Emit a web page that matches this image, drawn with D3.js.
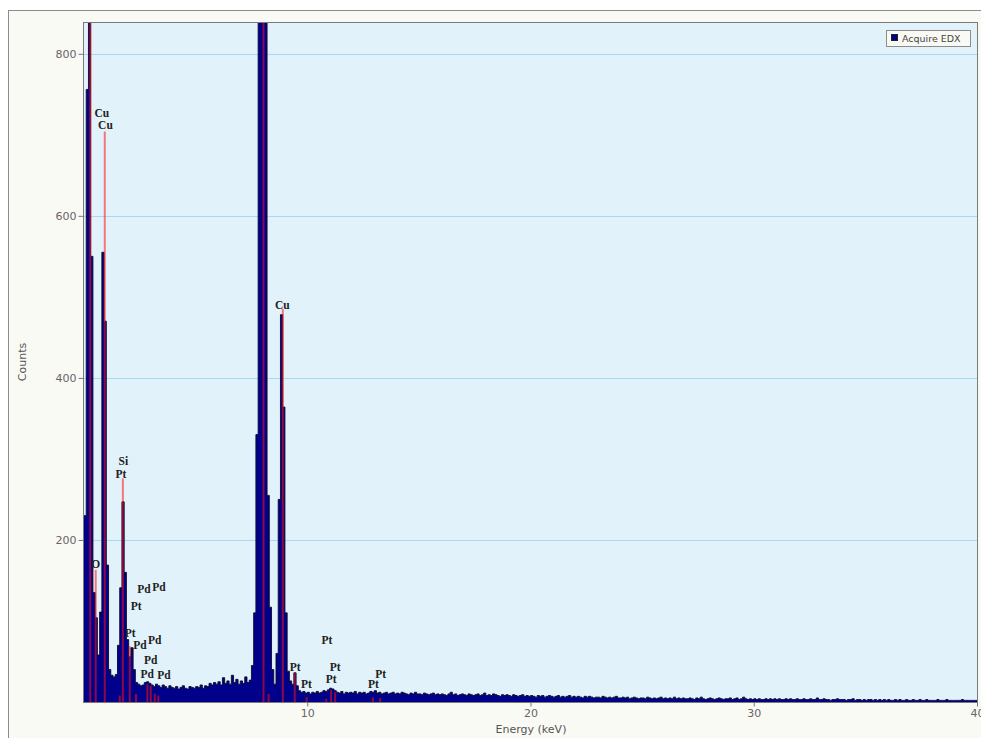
<!DOCTYPE html>
<html>
<head>
<meta charset="utf-8">
<script src="https://cdn.jsdelivr.net/npm/d3@7"></script>
<style>
  body { margin: 0; background: #fff; }
  svg { display: block; }
</style>
</head>
<body>
<svg id="chart" width="981" height="738"></svg>
<script>
// EDX spectrum, counts per 0.1 keV channel from 0 to 40 keV
const binWidth = 0.1;
const counts = [
  230, 756, 1500, 550, 135, 104, 58, 111, 555, 470,
  169, 40, 33, 31, 34, 70, 141, 247, 160, 77,
  56, 67, 40, 24, 22, 20, 21, 24, 25, 23,
  21, 19, 22, 20, 18, 21, 19, 17, 20, 18,
  17, 19, 16, 18, 20, 17, 16, 19, 18, 17,
  19, 18, 21, 17, 20, 19, 23, 21, 24, 22,
  25, 21, 30, 23, 26, 22, 33, 24, 28, 22,
  26, 23, 31, 24, 27, 45, 110, 330, 1200, 2500,
  2300, 900, 255, 117, 40, 22, 60, 250, 478, 364,
  110, 38, 26, 22, 36, 20, 14, 12, 13, 11,
  12, 10, 12, 11, 13, 11, 12, 14, 13, 15,
  17, 16, 14, 12, 11, 13, 10, 12, 11, 12,
  11, 13, 10, 12, 11, 12, 10, 11, 13, 12,
  14, 11, 12, 10, 11, 12, 10, 11, 12, 10,
  11, 10, 12, 11, 10, 9, 11, 10, 12, 10,
  10, 9, 11, 10, 9, 10, 11, 9, 10, 9,
  10, 9, 8, 10, 12, 9, 10, 8, 9, 10,
  9, 8, 10, 9, 8, 9, 10, 8, 9, 11,
  8, 9, 8, 10, 9, 8, 7, 9, 8, 9,
  8, 7, 9, 8, 7, 8, 9, 7, 8, 7,
  8, 7, 6, 8, 7, 8, 6, 7, 8, 7,
  6, 7, 8, 6, 7, 6, 7, 8, 6, 7,
  6, 7, 6, 5, 7, 6, 7, 6, 5, 6,
  6, 5, 7, 6, 5, 6, 5, 6, 7, 5,
  5, 6, 5, 6, 4, 5, 6, 5, 4, 5,
  5, 4, 6, 5, 4, 5, 4, 5, 6, 4,
  5, 4, 5, 4, 6, 4, 5, 4, 5, 4,
  4, 5, 4, 3, 5, 4, 6, 4, 3, 4,
  5, 4, 3, 4, 5, 4, 3, 4, 4, 5,
  3, 4, 5, 3, 4, 6, 4, 3, 4, 3,
  4, 3, 4, 3, 3, 4, 3, 4, 3, 4,
  3, 4, 3, 3, 4, 3, 4, 3, 3, 4,
  3, 3, 4, 3, 3, 4, 3, 3, 5, 3,
  3, 4, 3, 3, 2, 3, 3, 4, 3, 3,
  3, 2, 3, 3, 4, 2, 3, 3, 2, 3,
  2, 3, 3, 2, 3, 2, 3, 2, 3, 2,
  3, 2, 2, 3, 2, 3, 2, 2, 3, 2,
  2, 3, 2, 2, 3, 2, 2, 3, 2, 2,
  2, 2, 3, 2, 2, 2, 3, 2, 2, 2,
  2, 2, 2, 3, 2, 2, 2, 2, 2, 2
];

// element marker lines: energy (keV) and height (counts)
const markerEnergy = [0.28, 0.525, 0.93, 1.6, 1.74, 2.05, 2.33, 2.84, 2.99, 3.17, 3.33,
                      8.04, 8.27, 8.905, 9.44, 9.97, 10.85, 11.07, 11.25, 12.94, 13.27];
const markerHeight = [1500, 163, 704, 8, 276, 69, 10, 22, 20, 10, 8,
                      2000, 10, 485, 36, 6, 4, 15, 12, 6, 5];

// peak labels
const labelText   = ["Cu", "Cu", "O", "Si", "Pt", "Pd", "Pd", "Pt", "Pt", "Pd", "Pd", "Pd", "Pd", "Pd",
                     "Cu", "Pt", "Pt", "Pt", "Pt", "Pt", "Pt", "Pt"];
const labelEnergy = [0.80, 0.96, 0.52, 1.76, 1.65, 2.69, 3.36, 2.34, 2.07, 2.51, 3.17, 2.99, 2.83, 3.58,
                     8.88, 9.46, 9.96, 10.88, 11.25, 11.07, 13.29, 12.96];
const labelCounts = [722, 707, 165, 292, 277, 135, 137, 114, 80, 65, 72, 47, 30, 29,
                     485, 38, 17, 72, 38, 23, 30, 17];

const yTicks = [200, 400, 600, 800];
const xTicks = [10, 20, 30, 40];
const seriesName = "Acquire EDX";

const svg = d3.select("#chart");
const plotLeft = 84, plotRight = 977, plotTop = 23, plotBottom = 702;

const x = d3.scaleLinear().domain([0, 40]).range([plotLeft, plotRight]);
const y = d3.scaleLinear().domain([0, 838]).range([plotBottom, plotTop]);

// outer panel
svg.append("rect")
  .attr("x", 8.5).attr("y", 10.5)
  .attr("width", 1000).attr("height", 760)
  .attr("fill", "#fafaf4")
  .attr("stroke", "#8c8c8c");

// plot background
svg.append("rect")
  .attr("x", plotLeft).attr("y", plotTop)
  .attr("width", plotRight - plotLeft).attr("height", plotBottom - plotTop)
  .attr("fill", "#e2f2fb");

svg.append("g")
  .selectAll("line")
  .data(yTicks)
  .join("line")
  .attr("x1", plotLeft).attr("x2", plotRight)
  .attr("y1", d => Math.round(y(d)) + 0.5)
  .attr("y2", d => Math.round(y(d)) + 0.5)
  .attr("stroke", "#a6d9f1");

svg.append("clipPath").attr("id", "plotClip")
  .append("rect")
  .attr("x", plotLeft).attr("y", plotTop)
  .attr("width", plotRight - plotLeft).attr("height", plotBottom - plotTop);

const plot = svg.append("g").attr("clip-path", "url(#plotClip)");

const pts = counts.map((c, i) => ({ e: i * binWidth, c: c }));
pts.push({ e: counts.length * binWidth, c: counts[counts.length - 1] });

const area = d3.area()
  .x(d => x(d.e))
  .y0(y(0))
  .y1(d => y(d.c))
  .curve(d3.curveStepAfter);

const line = d3.line()
  .x(d => x(d.e))
  .y(d => y(d.c))
  .curve(d3.curveStepAfter);

plot.append("path")
  .datum(pts)
  .attr("d", area)
  .attr("fill", "#00008a");

plot.append("path")
  .datum(pts)
  .attr("d", line)
  .attr("fill", "none")
  .attr("stroke", "#0b0b2a")
  .attr("stroke-width", 0.9);

// marker lines
plot.append("g")
  .selectAll("line")
  .data(markerEnergy)
  .join("line")
  .attr("x1", d => x(d)).attr("x2", d => x(d))
  .attr("y1", y(0))
  .attr("y2", (d, i) => y(markerHeight[i]))
  .attr("stroke", "#ff1010")
  .attr("stroke-opacity", 0.55)
  .attr("stroke-width", 2);

// frame
svg.append("rect")
  .attr("x", plotLeft - 0.5).attr("y", plotTop - 0.5)
  .attr("width", plotRight - plotLeft + 1).attr("height", plotBottom - plotTop + 1)
  .attr("fill", "none")
  .attr("stroke", "#7a7a7a");

// axes
const yAxis = svg.append("g")
  .attr("transform", `translate(${plotLeft - 0.5},0)`)
  .call(d3.axisLeft(y).tickValues(yTicks).tickSize(5).tickPadding(2));

const xAxis = svg.append("g")
  .attr("transform", `translate(0,${plotBottom + 0.5})`)
  .call(d3.axisBottom(x).tickValues(xTicks).tickSize(4).tickPadding(3));

[yAxis, xAxis].forEach(g => {
  g.select(".domain").remove();
  g.selectAll(".tick line").attr("stroke", "#777");
  g.selectAll(".tick text")
    .attr("fill", "#666")
    .style("font-family", "'DejaVu Sans', sans-serif")
    .style("font-size", "11px");
});

svg.append("text")
  .attr("transform", "translate(26,362) rotate(-90)")
  .attr("text-anchor", "middle")
  .attr("fill", "#555")
  .style("font-family", "'DejaVu Sans', sans-serif")
  .style("font-size", "11px")
  .text("Counts");

svg.append("text")
  .attr("x", 531).attr("y", 733)
  .attr("text-anchor", "middle")
  .attr("fill", "#555")
  .style("font-family", "'DejaVu Sans', sans-serif")
  .style("font-size", "11px")
  .text("Energy (keV)");

// peak labels
svg.append("g")
  .selectAll("text")
  .data(labelText)
  .join("text")
  .attr("x", (d, i) => x(labelEnergy[i]))
  .attr("y", (d, i) => y(labelCounts[i]))
  .attr("text-anchor", "middle")
  .attr("fill", "#222")
  .style("font-family", "'Liberation Serif', serif")
  .style("font-weight", "bold")
  .style("font-size", "11.5px")
  .text(d => d);

// legend
const legend = svg.append("g").attr("transform", "translate(886,30)");
legend.append("rect")
  .attr("x", 0.5).attr("y", 0.5)
  .attr("width", 84).attr("height", 16)
  .attr("fill", "#fafaf4")
  .attr("stroke", "#8c8c8c");
legend.append("rect")
  .attr("x", 5.5).attr("y", 4.5)
  .attr("width", 6).attr("height", 6)
  .attr("fill", "#00008a")
  .attr("stroke", "#222");
legend.append("text")
  .attr("x", 16).attr("y", 12)
  .attr("fill", "#444")
  .style("font-family", "'DejaVu Sans', sans-serif")
  .style("font-size", "9.5px")
  .text(seriesName);
</script>
</body>
</html>
